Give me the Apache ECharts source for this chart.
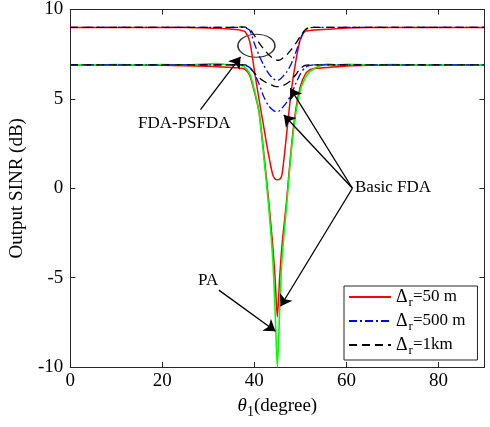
<!DOCTYPE html>
<html><head><meta charset="utf-8">
<script src="https://cdn.jsdelivr.net/npm/echarts@6/dist/echarts.min.js"></script>
<style>html,body{margin:0;padding:0;background:#fff}#c{width:490px;height:427px}</style>
</head><body><div id="c"></div>
<script>
// angle samples (degree)
var theta = [0,5,10,15,20,25,30,32,34,35,36,37,38,39,40,41,42,43,44,44.5,45,45.5,46,47,48,49,50,51,52,53,54,56,58,60,65,70,75,80,85,90];
// FDA-PSFDA curves
var psRed50   = [9.0,9.0,9.0,9.0,9.0,8.99,8.97,8.95,8.92,8.9,8.88,8.84,8.75,8.2,6.6,5.0,3.5,2.0,0.75,0.52,0.47,0.5,0.75,3.0,5.4,7.1,8.35,8.78,8.82,8.85,8.87,8.9,8.93,8.96,8.99,9.0,9.0,9.0,9.0,9.0];
var psBlue500 = [9.0,9.0,9.0,9.0,9.0,9.0,9.0,9.0,9.0,9.0,9.0,9.0,8.98,8.85,8.1,7.45,6.9,6.45,6.15,6.07,6.03,6.08,6.2,6.5,6.95,7.6,8.3,8.85,8.97,9.0,9.0,9.0,9.0,9.0,9.0,9.0,9.0,9.0,9.0,9.0];
var psBlack1k = [9.0,9.0,9.0,9.0,9.0,9.0,9.0,9.0,9.0,9.0,9.02,9.03,9.02,8.9,8.55,8.15,7.8,7.5,7.27,7.2,7.16,7.17,7.25,7.45,7.75,8.1,8.5,8.85,9.0,9.0,9.0,9.0,9.0,9.0,9.0,9.0,9.0,9.0,9.0,9.0];
// Basic FDA curves
var baRed50   = [6.9,6.9,6.9,6.9,6.88,6.86,6.82,6.8,6.77,6.76,6.74,6.72,6.65,6.3,5.4,4.3,2.1,-0.4,-3.2,-5.0,-7.2,-5.0,-3.2,-0.7,2.2,4.4,5.7,6.35,6.62,6.7,6.72,6.76,6.8,6.84,6.88,6.9,6.9,6.9,6.9,6.9];
var baBlue500 = [6.9,6.9,6.9,6.9,6.9,6.9,6.9,6.9,6.9,6.9,6.9,6.9,6.88,6.75,6.4,5.85,5.15,4.65,4.38,4.3,4.28,4.33,4.47,4.8,5.25,5.85,6.4,6.75,6.88,6.9,6.9,6.9,6.9,6.9,6.9,6.9,6.9,6.9,6.9,6.9];
var baBlack1k = [6.9,6.9,6.9,6.9,6.9,6.9,6.9,6.9,6.9,6.9,6.9,6.9,6.9,6.75,6.45,6.2,6.0,5.85,5.74,5.7,5.68,5.68,5.72,5.85,6.05,6.35,6.7,6.87,6.9,6.9,6.9,6.9,6.9,6.9,6.9,6.9,6.9,6.9,6.9,6.9];
// PA curve
var paGreen   = [6.9,6.9,6.92,6.9,6.92,6.9,6.96,6.97,6.92,6.9,6.93,6.9,6.75,6.4,5.5,4.3,1.9,-0.7,-4.0,-6.8,-10,-6.8,-4.0,-1.0,2.0,4.2,5.5,6.15,6.5,6.7,6.82,6.95,6.88,6.93,6.9,6.92,6.9,6.9,6.9,6.9];
// axis ticks
var xTicks = [0,20,40,60,80];
var yTicks = [-10,-5,0,5,10];
// legend labels
var legendNames = ['50m','500m','1km'];
var legendText = {'50m':'=50 m','500m':'=500 m','1km':'=1km'};
// annotation arrows [from, to] in data coords
var arrowPS   = [[28.3,4.4],[37.0,7.35]];
var arrowsBasic = [[[61.3,0.0],[47.8,5.6]],[[61.3,0.0],[46.4,4.1]],[[61.3,0.0],[45.7,-6.6]]];
var arrowPA   = [[32.3,-5.7],[44.6,-8.0]];
var ellipseCenter = [40.45,7.97];

function pairs(ys){ return theta.map(function(t,i){return [t,ys[i]];}); }
var FONT = 'Liberation Serif';
function lineSeries(name, ys, color, type, width){
  return {name:name, type:'line', data:pairs(ys), symbol:'none', showSymbol:false, smooth:0.25, animation:false,
    lineStyle:{color:color, width:width, type:type}, itemStyle:{color:color}, silent:true};
}
var dashDot = [8,3,2,3];
var dashed = [8,5];
var arrowData = [];
arrowData.push([{coord:arrowPS[0]},{coord:arrowPS[1]}]);
arrowsBasic.forEach(function(a){ arrowData.push([{coord:a[0]},{coord:a[1]}]); });
arrowData.push([{coord:arrowPA[0]},{coord:arrowPA[1]}]);

var series = [
  lineSeries('50m', psRed50, '#ff0000', 'solid', 1.5),
  lineSeries('500m', psBlue500, '#0000ff', dashDot, 1.3),
  lineSeries('1km', psBlack1k, '#000000', dashed, 1.3),
  lineSeries('50m', baRed50, '#ff0000', 'solid', 1.5),
  lineSeries('PA', paGreen, '#00ff00', 'solid', 1.6),
  lineSeries('500m', baBlue500, '#0000ff', dashDot, 1.3),
  lineSeries('1km', baBlack1k, '#000000', dashed, 1.3),
  {type:'scatter', data:[ellipseCenter], symbol:'circle', symbolSize:[37,23], silent:true, animation:false,
   itemStyle:{color:'rgba(0,0,0,0)', borderColor:'#000', borderWidth:1.3},
   markLine:{silent:true, animation:false, symbol:['none','arrow'], symbolSize:11,
     label:{show:false}, lineStyle:{color:'#000', width:1.3, type:'solid'}, data:arrowData}}
];

var axisLineStyle = {color:'#262626',width:1};
var chart = echarts.init(document.getElementById('c'), null, {renderer:'canvas'});
chart.setOption({
  backgroundColor:'#fff',
  animation:false,
  textStyle:{fontFamily:FONT, color:'#000'},
  grid:{left:69.5, right:5.5, top:7, bottom:60},
  xAxis:[{type:'value', min:0, max:90, interval:20, position:'bottom',
    name:'{i|θ}{s|1}{n|(degree)}', nameLocation:'middle', nameGap:26,
    nameTextStyle:{rich:{i:{fontFamily:FONT,fontStyle:'italic',fontSize:19,color:'#000'},
      s:{fontFamily:FONT,fontSize:14,color:'#000',padding:[12,0,0,0]},
      n:{fontFamily:FONT,fontSize:19,color:'#000'}}},
    axisLine:{onZero:false,lineStyle:axisLineStyle}, axisTick:{inside:true,length:5,lineStyle:{color:'#262626'}},
    axisLabel:{fontFamily:FONT,fontSize:19,color:'#000',margin:5,
      formatter:function(v){return xTicks.indexOf(v)>=0? String(v):'';}},
    splitLine:{show:false}},
   {type:'value', min:0, max:90, interval:20, position:'top',
    axisLine:{onZero:false,lineStyle:axisLineStyle}, axisTick:{inside:true,length:5,lineStyle:{color:'#262626'}},
    axisLabel:{show:false}, splitLine:{show:false}}],
  yAxis:[{type:'value', min:-10, max:10, interval:5, position:'left',
    name:'Output SINR (dB)', nameLocation:'middle', nameGap:38,
    nameTextStyle:{fontFamily:FONT,fontSize:19,color:'#000'},
    axisLine:{show:true,onZero:false,lineStyle:axisLineStyle}, axisTick:{show:true,inside:true,length:5,lineStyle:{color:'#262626'}},
    axisLabel:{fontFamily:FONT,fontSize:19,color:'#000',margin:7,
      formatter:function(v){return yTicks.indexOf(v)>=0? String(v):'';}},
    splitLine:{show:false}},
   {type:'value', min:-10, max:10, interval:5, position:'right',
    axisLine:{show:true,onZero:false,lineStyle:axisLineStyle}, axisTick:{show:true,inside:true,length:5,lineStyle:{color:'#262626'}},
    axisLabel:{show:false}, splitLine:{show:false}}],
  legend:{data:legendNames, orient:'vertical', left:344, top:286, itemWidth:42, itemHeight:10, itemGap:3,
    padding:[2,12,3,4], borderColor:'#262626', borderWidth:1, backgroundColor:'#fff', selectedMode:false,
    itemStyle:{opacity:0},
    formatter:function(n){return '{d|Δ}{r|r}{t|'+legendText[n]+'}';},
    textStyle:{fontFamily:FONT, fontSize:17, color:'#000',
      rich:{d:{fontFamily:FONT,fontSize:18,color:'#000'},
            r:{fontFamily:FONT,fontSize:13,color:'#000',padding:[11,0,0,1]},
            t:{fontFamily:FONT,fontSize:17,color:'#000'}}}},
  graphic:[
    {type:'text', left:138, top:115, style:{text:'FDA-PSFDA', font:'17px "Liberation Serif"', fill:'#000'}},
    {type:'text', left:355, top:179, style:{text:'Basic FDA', font:'17px "Liberation Serif"', fill:'#000'}},
    {type:'text', left:198, top:272, style:{text:'PA', font:'17px "Liberation Serif"', fill:'#000'}}
  ],
  series:series
});
</script></body></html>
